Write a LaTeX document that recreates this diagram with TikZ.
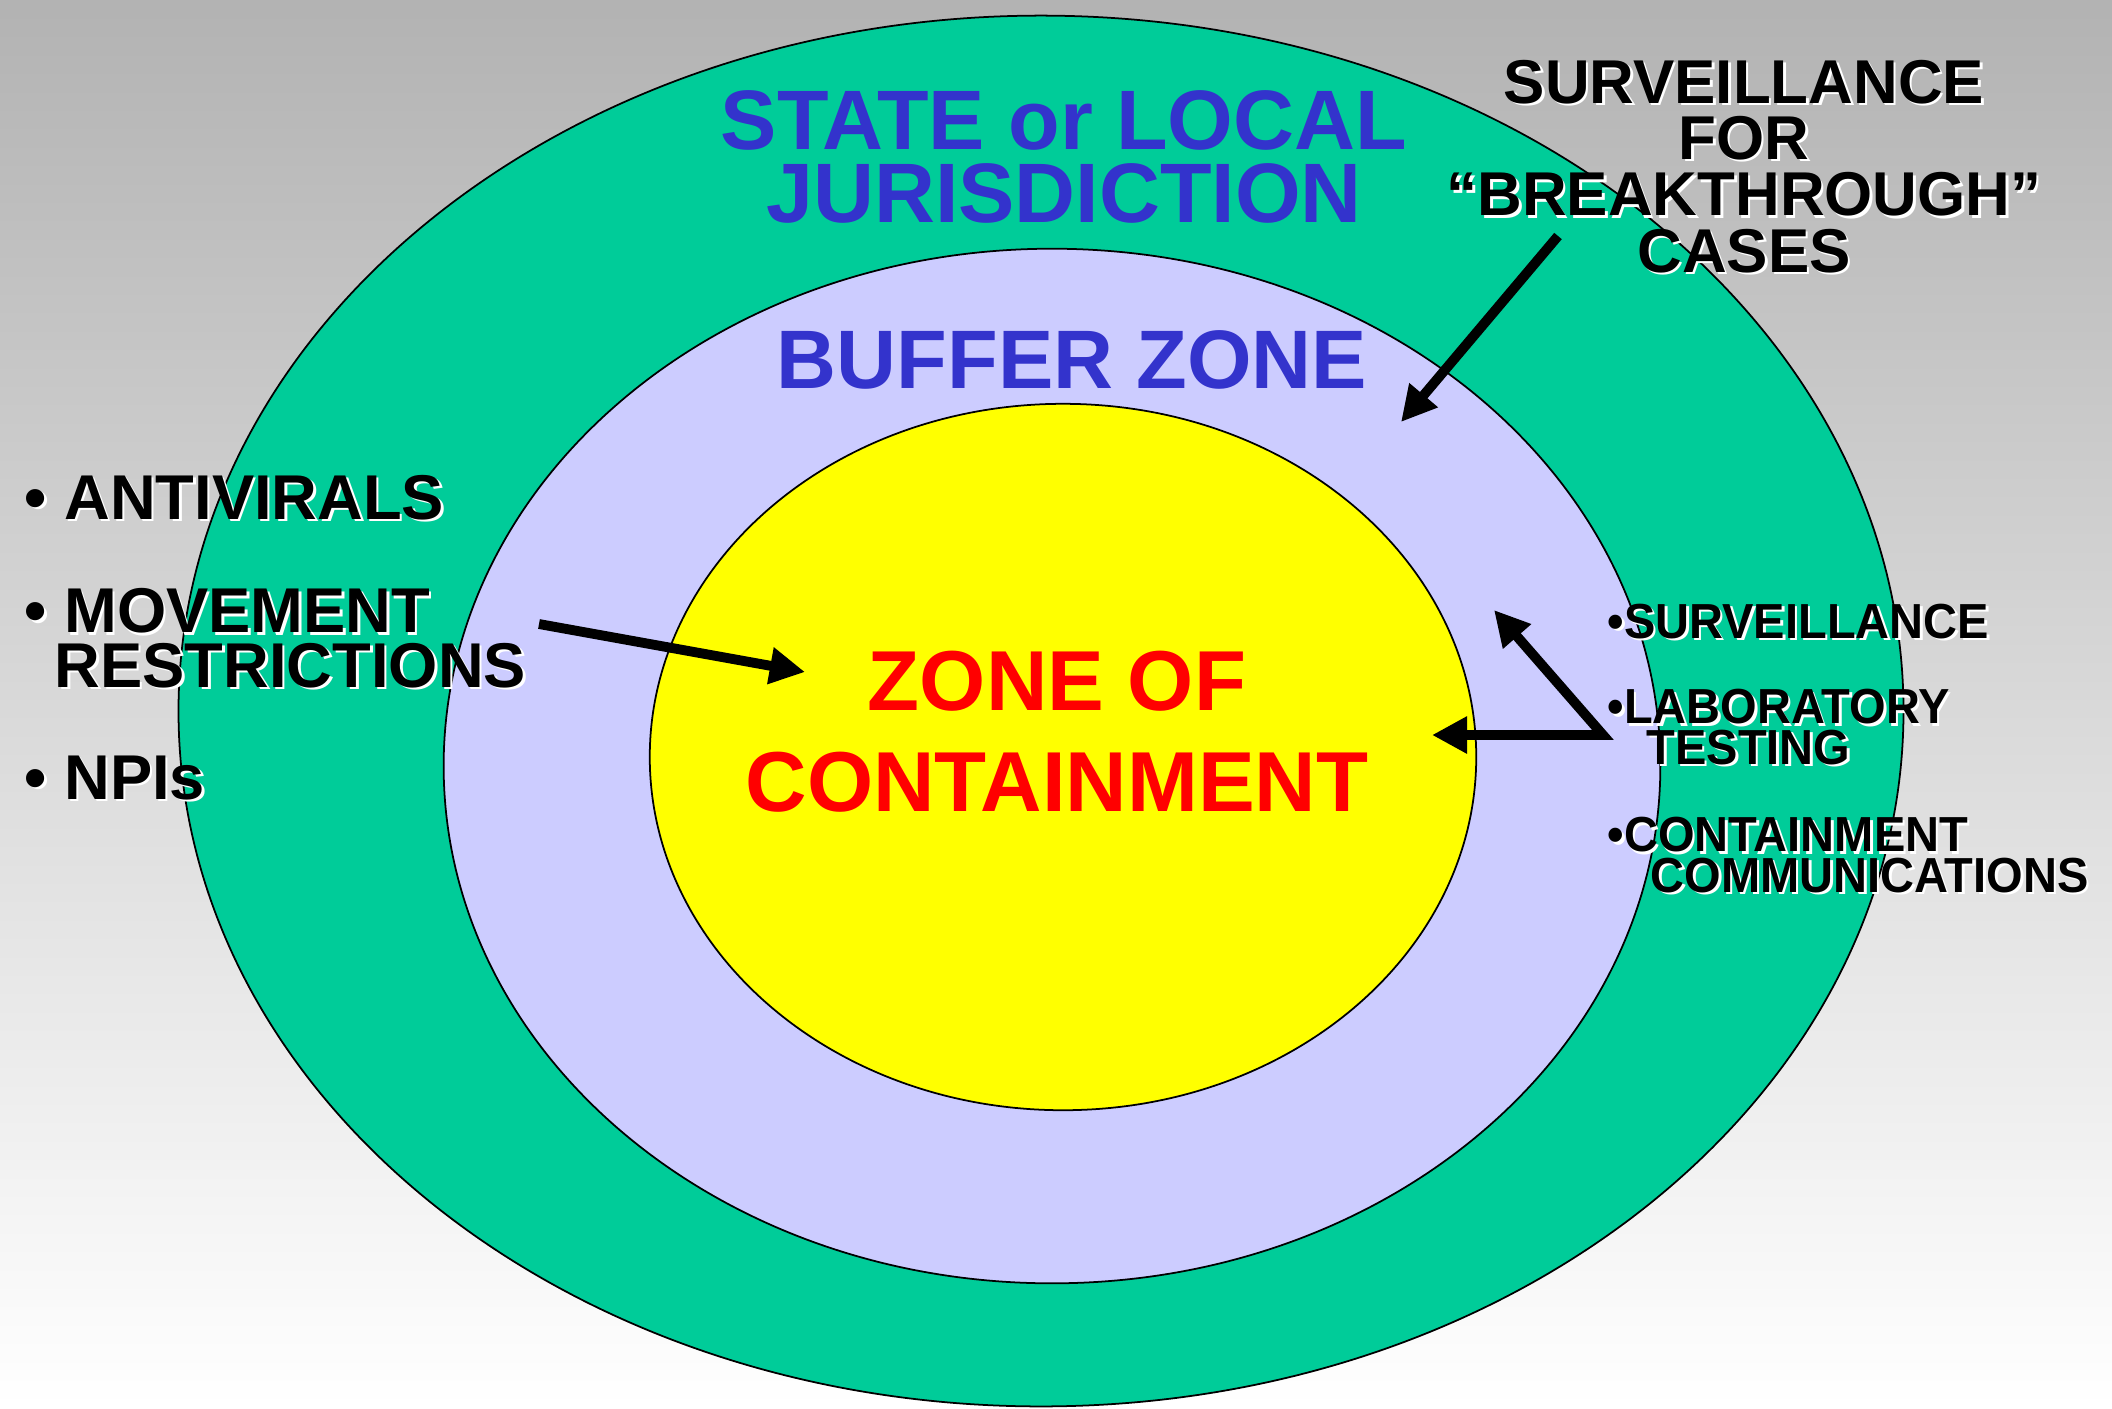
\documentclass[tikz,border=0pt]{standalone}
\usepackage{fontspec}
\setmainfont{Liberation Sans}
\newfontfamily\narrowfont[FakeStretch=0.955]{Liberation Sans}
\usetikzlibrary{arrows.meta, shapes.geometric}

\definecolor{jurisgreen}{HTML}{00CC99}
\definecolor{bufferblue}{HTML}{CCCCFF}
\definecolor{coreyellow}{HTML}{FFFF00}
\definecolor{titleblue}{HTML}{3333CC}

\tikzset{
  zone/.style = {ellipse, draw=black, line width=0.5pt, inner sep=0pt},
  title/.style = {font=\bfseries\fontsize{24}{20.5}\selectfont, text=titleblue, align=center, inner sep=0pt},
  core label/.style = {font=\bfseries\fontsize{24.2}{28.5}\selectfont, text=red, align=center, inner sep=0pt},
  list/.style = {font=\bfseries\fontsize{18}{15.4}\selectfont, align=left, anchor=base west, inner sep=0pt},
  note/.style = {font=\bfseries\fontsize{17.6}{16}\selectfont, align=center, anchor=base, inner sep=0pt},
  side/.style = {font=\narrowfont\bfseries\fontsize{14}{11.4}\selectfont, align=left, anchor=base west, inner sep=0pt},
  arr/.style = {-{Triangle[length=10pt, width=10pt]}, line width=2.8pt}
}

% black text over a white copy moved down and right
\newcommand\shadowlabel[3]{%
  \node[#2, text=white, xshift=0.7pt, yshift=-0.7pt] {#3};
  \node[#2] (#1) {#3};}

\begin{document}
\begin{tikzpicture}[x=0.01cm, y=-0.01cm]
  \useasboundingbox (0,0) rectangle (2112,1408);
  \shade[top color=black!30, bottom color=white] (0,0) rectangle (2112,1408);

  % the three zones
  \node (state) [zone, fill=jurisgreen, minimum width=17.24cm, minimum height=13.9cm] at (1041,711) {};
  \node (buffer) [zone, fill=bufferblue, minimum width=12.16cm, minimum height=10.34cm] at (1052,766) {};
  \node (core) [zone, fill=coreyellow, minimum width=8.26cm, minimum height=7.06cm] at (1063,757) {};

  % base of a multi-line node is its last line
  \node (juris) [title, anchor=base] at (1064,222) {STATE or LOCAL\\JURISDICTION};
  \node (bufname) [title, font=\bfseries\fontsize{23.6}{20}\selectfont, anchor=base] at (1072,388) {BUFFER ZONE};
  \node (zoc) [core label, anchor=base] at (1057,811) {ZONE OF\\CONTAINMENT};

  % measures on the left
  \shadowlabel{antivirals}{list, at={(24,519)}}{•\ ANTIVIRALS}
  \shadowlabel{movement}{list, at={(24,687)}}{•\ MOVEMENT\\\hspace*{0.3cm}RESTRICTIONS}
  \shadowlabel{npis}{list, at={(24,799)}}{•\ NPIs}

  \shadowlabel{breakthrough}{note, at={(1744,272)}}{SURVEILLANCE\\FOR\\“BREAKTHROUGH”\\CASES}

  % measures on the right
  \shadowlabel{surv}{side, at={(1607,638)}}{•SURVEILLANCE}
  \shadowlabel{lab}{side, at={(1607,764)}}{•LABORATORY\\\hspace*{0.39cm}TESTING}
  \shadowlabel{comms}{side, at={(1607,892)}}{•CONTAINMENT\\\hspace*{0.43cm}COMMUNICATIONS}

  \coordinate (casesfoot) at (1558,236);
  \coordinate (bufin) at (1401,422);
  \coordinate (movefoot) at (539,624);
  \coordinate (corein) at (805,672);
  \coordinate (fork) at (1603,735);
  \coordinate (bufedge) at (1494,610);
  \coordinate (coreedge) at (1432,735);

  \draw[arr] (casesfoot) -- (bufin);
  \draw[arr] (movefoot) -- (corein);
  \draw[arr, {Triangle[length=10pt, width=10pt]}-{Triangle[length=10pt, width=10pt]}, line join=miter] (bufedge) -- (fork) -- (coreedge);
\end{tikzpicture}
\end{document}
